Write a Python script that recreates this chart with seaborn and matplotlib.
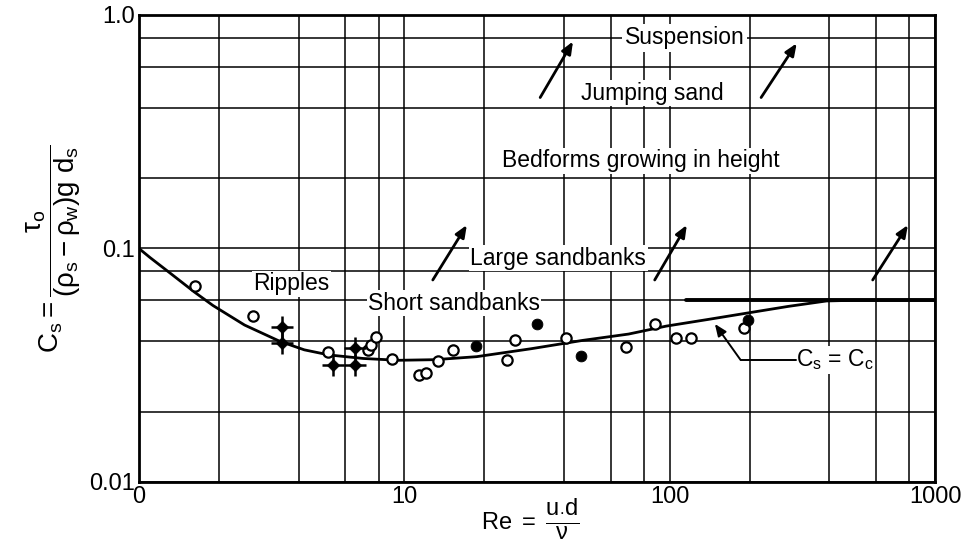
import numpy as np
import pandas as pd
import matplotlib
matplotlib.use("Agg")
import matplotlib.pyplot as plt
from matplotlib.ticker import FixedLocator, NullFormatter
import seaborn as sns

# ---- data ----
curve_re = [1.0, 1.1, 1.3, 1.62, 1.9, 2.5, 3.4, 4.2, 5.2, 7.0, 9.5, 13, 18.7, 30, 47, 70, 97, 140, 194, 280, 390, 500, 1000]
curve_cs = [0.100, 0.0915, 0.079, 0.065, 0.057, 0.047, 0.040, 0.0368, 0.035, 0.0338, 0.0332, 0.0334, 0.0344, 0.0372, 0.0404, 0.043, 0.0465, 0.0497, 0.0528, 0.0565, 0.0596, 0.060, 0.060]

cc_re = [115, 1000]
cc_cs = [0.06, 0.06]

open_re = [1.63, 2.68, 5.14, 7.3, 7.5, 7.85, 8.95, 11.4, 12.1, 13.4, 15.3, 24.3, 26.1, 40.8, 68.7, 87.8, 106, 120, 191]
open_cs = [0.069, 0.0516, 0.0362, 0.0367, 0.0386, 0.0419, 0.0337, 0.0287, 0.0292, 0.033, 0.0367, 0.0333, 0.0406, 0.0415, 0.038, 0.0473, 0.0412, 0.0412, 0.0458]

filled_re = [18.6, 31.5, 46.5, 197]
filled_cs = [0.0382, 0.0473, 0.0346, 0.0494]

cross_re = [3.45, 3.45, 5.37, 6.5, 6.5]
cross_cs = [0.0459, 0.0393, 0.0317, 0.0376, 0.0317]

x_ticks = [1, 10, 100, 1000]
x_ticklabels = ["0", "10", "100", "1000"]
y_ticks = [0.01, 0.1, 1.0]
y_ticklabels = ["0.01", "0.1", "1.0"]
x_grid = [2, 4, 6, 8, 20, 40, 60, 80, 200, 400, 600, 800]
y_grid = [0.02, 0.04, 0.06, 0.08, 0.2, 0.4, 0.6, 0.8]

# ---- figure ----
sns.set_theme(style="white")
plt.rcParams['font.family'] = ['Liberation Sans', 'DejaVu Sans']
plt.rcParams['mathtext.fontset'] = 'custom'
plt.rcParams['mathtext.rm'] = 'Liberation Sans'
plt.rcParams['mathtext.it'] = 'Liberation Sans'
plt.rcParams['text.color'] = 'black'
plt.rcParams['axes.labelcolor'] = 'black'

fig = plt.figure(figsize=(9.65, 5.44), dpi=100)
ax = fig.add_axes([0.144, 0.114, 0.825, 0.8585])
ax.set_xscale("log")
ax.set_yscale("log")
ax.set_xlim(1, 1000)
ax.set_ylim(0.01, 1.0)

# grid
ax.xaxis.set_major_locator(FixedLocator(x_ticks))
ax.yaxis.set_major_locator(FixedLocator(y_ticks))
ax.xaxis.set_minor_locator(FixedLocator(x_grid))
ax.yaxis.set_minor_locator(FixedLocator(y_grid))
ax.xaxis.set_minor_formatter(NullFormatter())
ax.yaxis.set_minor_formatter(NullFormatter())
ax.set_xticklabels(x_ticklabels)
ax.set_yticklabels(y_ticklabels)
ax.grid(True, which="both", color="black", linewidth=1.1, zorder=0)
ax.tick_params(which="both", length=0, labelsize=17, colors="black", pad=3)
for s in ax.spines.values():
    s.set_color("black")
    s.set_linewidth(2.0)
ax.set_axisbelow(True)

# curve
df_curve = pd.DataFrame({"Re": curve_re, "Cs": curve_cs})
sns.lineplot(data=df_curve, x="Re", y="Cs", ax=ax, color="black", linewidth=2.0, zorder=3)
df_cc = pd.DataFrame({"Re": cc_re, "Cs": cc_cs})
sns.lineplot(data=df_cc, x="Re", y="Cs", ax=ax, color="black", linewidth=2.8, zorder=3)

# markers
sns.scatterplot(x=open_re, y=open_cs, ax=ax, marker="o", s=55, facecolor="white",
                edgecolor="black", linewidth=1.6, zorder=4)
sns.scatterplot(x=filled_re, y=filled_cs, ax=ax, marker="o", s=60, color="black",
                edgecolor="black", zorder=4)
sns.scatterplot(x=cross_re, y=cross_cs, ax=ax, marker="+", s=260, color="black",
                linewidth=1.8, zorder=4)
sns.scatterplot(x=cross_re, y=cross_cs, ax=ax, marker="D", s=40, color="black",
                edgecolor="black", zorder=5)

# labels
ax.set_xlabel("")
fig.text(0.55, 0.003, r"$\mathrm{Re}\ =\ \dfrac{\mathrm{u}_{\bullet}\mathrm{d}}{\nu}$",
         fontsize=17, ha="center", va="bottom", color="black")
ax.set_ylabel(r"$\mathrm{C_s} = \dfrac{\tau_{\mathrm{o}}}{(\rho_{\mathrm{s}}-\rho_{\mathrm{w}})\mathrm{g\ d_s}}$",
              fontsize=20, labelpad=4, color="black")

# text annotations
tk = dict(fontsize=16.5, color="black", ha="center", va="center", zorder=6)
wb = dict(facecolor="white", edgecolor="none", pad=1)
ax.text(114, 0.797, "Suspension", bbox=dict(facecolor="white", edgecolor="none", pad=2), **tk)
ax.text(86, 0.463, "Jumping sand", bbox=wb, **tk)
ax.text(78, 0.237, "Bedforms growing in height", bbox=wb, **tk)
ax.text(38, 0.091, "Large sandbanks", bbox=wb, **tk)
ax.text(15.4, 0.0582, "Short sandbanks", bbox=wb, **tk)
ax.text(3.76, 0.0705, "Ripples", bbox=wb, **tk)
ax.text(420, 0.0333, r"$\mathrm{C_s}$ = $\mathrm{C_c}$", bbox=wb, **tk)

# arrows
arrows = [((32.5, 0.443), (43.2, 0.77)),
          ((221, 0.443), (301, 0.756)),
          ((12.8, 0.0733), (17.2, 0.126)),
          ((87.8, 0.0733), (116, 0.126)),
          ((582, 0.0733), (790, 0.126))]
for tail, head in arrows:
    ax.annotate("", xy=head, xytext=tail,
                arrowprops=dict(arrowstyle="-|>,head_length=0.6,head_width=0.25",
                                color="black", lw=2.0, shrinkA=0, shrinkB=0), zorder=6)

# Cs = Cc leader line
ax.plot([300, 185], [0.0333, 0.0333], color="black", lw=1.4, zorder=6)
ax.annotate("", xy=(148, 0.0475), xytext=(185, 0.0333),
            arrowprops=dict(arrowstyle="-|>,head_length=0.6,head_width=0.25",
                            color="black", lw=1.4, shrinkA=0, shrinkB=0), zorder=6)

fig.savefig("out.png", dpi=100)
